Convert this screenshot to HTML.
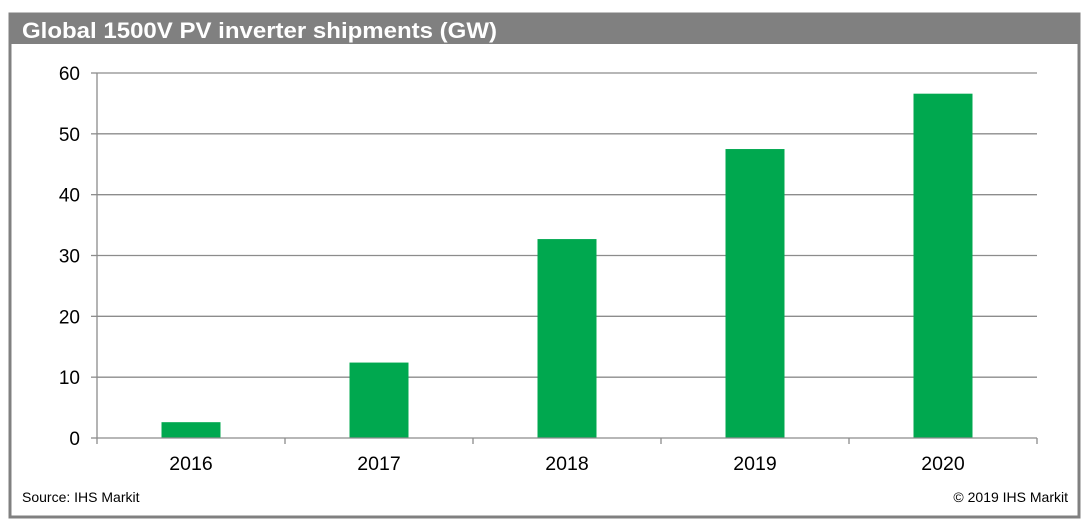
<!DOCTYPE html>
<html><head><meta charset="utf-8"><style>
body{margin:0;background:#fff;width:1088px;height:524px;overflow:hidden;font-family:"Liberation Sans",Arial,sans-serif}
</style></head><body>
<svg width="1088" height="524">
<rect x="10" y="14" width="1069" height="503" fill="none" stroke="#808080" stroke-width="3"/>
<rect x="10" y="13" width="1070" height="31" fill="#808080"/>
<text x="22" y="38" fill="#fff" font-size="22" font-weight="bold" textLength="475" lengthAdjust="spacingAndGlyphs">Global 1500V PV inverter shipments (GW)</text>
<g id="plot"></g>
<text x="22" y="502" font-size="14" fill="#000">Source: IHS Markit</text>
<text x="1068" y="502" font-size="14" fill="#000" text-anchor="end">© 2019 IHS Markit</text>
</svg>
<script>
const categories=["2016","2017","2018","2019","2020"];
const values=[2.6,12.4,32.7,47.5,56.6];
const yTicks=[0,10,20,30,40,50,60];
const g=document.getElementById('plot');
const NS='http://www.w3.org/2000/svg';
const x0=97,x1=1037,y0=438,y1=73,yMax=60;
const y=v=>y0-(v/yMax)*(y0-y1);
const band=(x1-x0)/categories.length;
function mk(t,a){const e=document.createElementNS(NS,t);for(const k in a)e.setAttribute(k,a[k]);g.appendChild(e);return e;}
yTicks.forEach(v=>{
 if(v>0){const l=mk('line',{x1:x0,x2:x1,y1:y(v),y2:y(v),stroke:'#8c8c8c','stroke-width':1.3});
 
 }
 const t=mk('line',{x1:x0-6,x2:x0,y1:y(v),y2:y(v),stroke:'#8c8c8c','stroke-width':1.3});
 
 
 const tx=mk('text',{x:80,y:y(v)+7,'font-size':19,'text-anchor':'end',fill:'#000'});tx.textContent=v;
 
 
});
categories.forEach((c,i)=>{
 const cx=x0+band*(i+0.5),bw=59;
 const r=mk('rect',{x:cx-bw/2,y:y(values[i]),width:bw,height:y0-y(values[i]),fill:'#00a84f'});
 
 
 const tx=mk('text',{x:cx,y:470,'font-size':19.5,'text-anchor':'middle',fill:'#000'});tx.textContent=c;
 
 
});
for(let i=0;i<=categories.length;i++){
 const xx=x0+band*i;
 const t=mk('line',{x1:xx,x2:xx,y1:y0,y2:y0+6,stroke:'#8c8c8c','stroke-width':1.3});
 
 
}
const ya=mk('line',{x1:x0,x2:x0,y1:y1,y2:y0,stroke:'#8c8c8c','stroke-width':1.3});


const xa=mk('line',{x1:x0,x2:x1,y1:y0,y2:y0,stroke:'#8c8c8c','stroke-width':1.3});


</script>
</body></html>
